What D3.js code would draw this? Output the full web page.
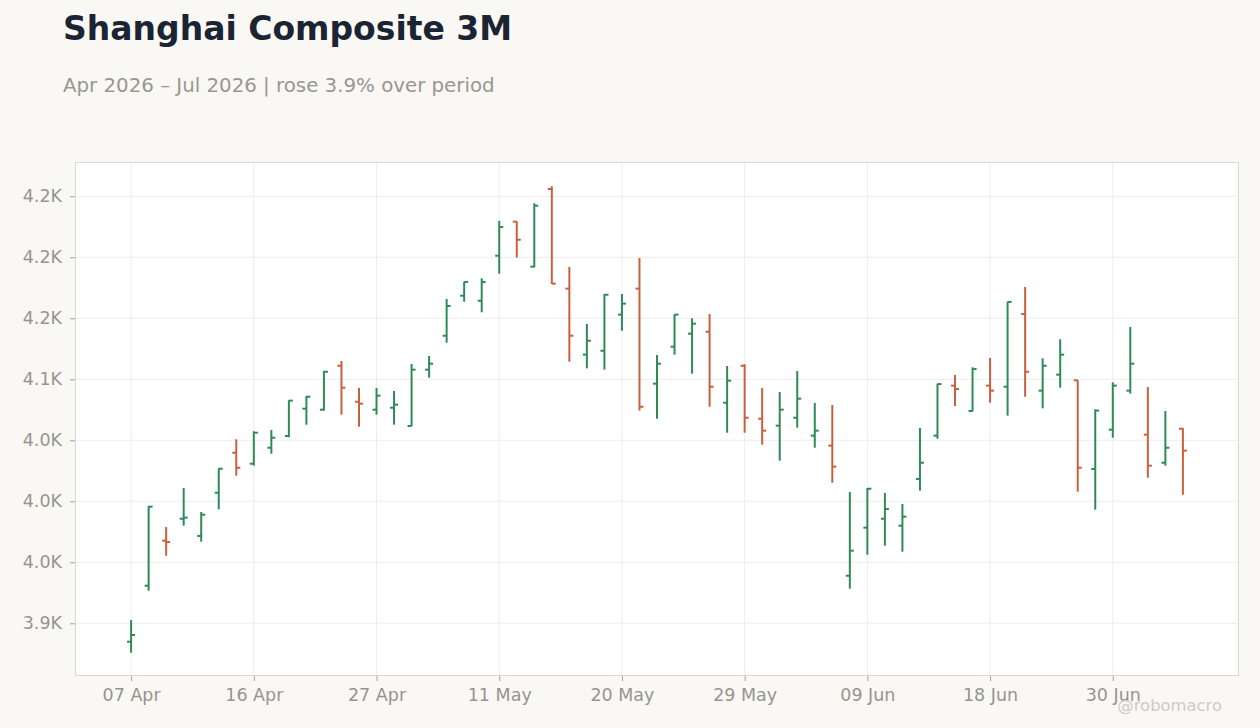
<!DOCTYPE html>
<html>
<head>
<meta charset="utf-8">
<script src="https://cdn.jsdelivr.net/npm/d3@7"></script>
<style>
  html, body { margin: 0; padding: 0; background: #f9f8f5; }
  svg { display: block; font-family: "DejaVu Sans", sans-serif; }
</style>
</head>
<body>
<svg id="chart" width="1260" height="728"></svg>
<script>
const dates = ["07 Apr","08 Apr","09 Apr","10 Apr","13 Apr","14 Apr","15 Apr","16 Apr","17 Apr","20 Apr",
  "21 Apr","22 Apr","23 Apr","24 Apr","27 Apr","28 Apr","29 Apr","30 Apr","06 May","07 May",
  "08 May","11 May","12 May","13 May","14 May","15 May","18 May","19 May","20 May","21 May",
  "22 May","25 May","26 May","27 May","28 May","29 May","01 Jun","02 Jun","03 Jun","04 Jun",
  "05 Jun","08 Jun","09 Jun","10 Jun","11 Jun","12 Jun","15 Jun","16 Jun","17 Jun","18 Jun",
  "22 Jun","23 Jun","24 Jun","25 Jun","26 Jun","29 Jun","30 Jun","01 Jul","02 Jul","03 Jul","06 Jul"];

const openVals = [3884.9,3930.8,3967.7,3985.7,3971.6,4007.0,4039.8,4030.8,4043.9,4053.5,
  4075.9,4075.1,4111.1,4081.6,4075.1,4076.7,4061.7,4107.9,4135.7,4168.5,
  4164.4,4201.3,4229.2,4192.3,4256.0,4174.3,4120.2,4123.4,4153.0,4174.3,
  4096.4,4126.7,4137.4,4139.0,4080.8,4111.1,4067.7,4062.0,4068.5,4053.8,
  4045.6,3939.0,3978.4,3985.7,3980.0,4018.3,4053.8,4094.8,4074.0,4094.8,
  4093.9,4153.5,4090.7,4103.8,4099.2,4026.5,4058.7,4090.7,4054.6,4031.6,4059.5];
const highVals = [3902.7,3996.1,3978.9,4010.9,3991.2,4027.0,4050.8,4057.4,4058.4,4082.8,
  4086.3,4106.8,4115.0,4092.9,4092.9,4090.4,4112.5,4119.1,4165.8,4180.0,
  4182.8,4229.8,4229.5,4244.3,4258.2,4192.0,4145.3,4169.9,4169.9,4199.4,
  4119.9,4153.3,4150.0,4153.5,4110.9,4112.3,4092.9,4089.6,4106.8,4080.6,
  4078.9,4007.6,4010.9,4006.8,3997.8,4060.1,4096.4,4103.5,4109.8,4117.5,
  4163.6,4175.7,4117.2,4132.8,4099.4,4075.4,4097.5,4142.9,4093.7,4074.0,4060.1];
const lowVals = [3875.9,3926.7,3955.4,3980.0,3966.9,3993.4,4021.0,4029.2,4039.0,4052.5,
  4062.8,4074.3,4071.0,4061.1,4071.0,4062.8,4061.5,4101.3,4130.0,4163.6,
  4154.9,4186.6,4199.7,4191.8,4178.1,4114.4,4109.0,4107.9,4139.8,4074.3,
  4067.7,4120.2,4104.6,4077.5,4056.2,4056.2,4046.4,4033.3,4060.3,4043.9,
  4015.2,3928.4,3956.2,3963.6,3958.7,4008.7,4051.3,4078.1,4073.8,4080.8,
  4070.2,4085.7,4076.2,4093.1,4007.9,3993.1,4052.1,4088.2,4019.3,4029.2,4005.4];
const closeVals = [3890.4,3995.6,3966.6,3986.6,3989.0,4026.7,4027.5,4056.2,4052.1,4082.5,
  4085.7,4106.2,4093.1,4080.0,4086.6,4079.2,4107.9,4112.8,4160.1,4179.8,
  4179.8,4224.8,4214.4,4242.3,4178.4,4135.7,4131.6,4169.3,4162.0,4077.5,
  4112.8,4153.0,4145.6,4093.9,4098.9,4068.5,4057.9,4075.1,4084.1,4057.9,
  4028.4,3959.5,4010.3,3993.7,3987.4,4031.6,4096.1,4092.0,4108.4,4090.7,
  4163.4,4106.2,4111.1,4120.2,4027.5,4074.3,4094.8,4112.8,4029.2,4043.9,4041.5];

const yTickValues = [3900, 3950, 4000, 4050, 4100, 4150, 4200, 4250];
const yTickLabels = ["3.9K","4.0K","4.0K","4.0K","4.1K","4.2K","4.2K","4.2K"];
const xTickDates = ["07 Apr","16 Apr","27 Apr","11 May","20 May","29 May","09 Jun","18 Jun","30 Jun"];

const titleText = "Shanghai Composite 3M";
const subtitleText = "Apr 2026 \u2013 Jul 2026 | rose 3.9% over period";
const watermark = "@robomacro";

(function () {
const data = dates.map((d, i) => ({date: d, o: openVals[i], h: highVals[i], l: lowVals[i], c: closeVals[i]}));

const svg = d3.select("#chart");
const pL = 75, pR = 1239, pT = 162, pB = 676;
const UP = "#2e8b57", DOWN = "#c8603f";

const x = d3.scalePoint().domain(dates).range([pL, pR]).padding(3.2);
const y = d3.scaleLinear().domain([3856.8, 4278.1]).range([pB, pT]);

// Titles
svg.append("text").attr("x", 63).attr("y", 40)
  .attr("font-size", 33).attr("font-weight", "bold").attr("fill", "#1b2433")
  .text(titleText);
svg.append("text").attr("x", 63).attr("y", 92)
  .attr("font-size", 19.8).attr("fill", "#9a9690")
  .text(subtitleText);

// Plot background
svg.append("rect").attr("x", pL).attr("y", pT)
  .attr("width", pR - pL).attr("height", pB - pT)
  .attr("fill", "#ffffff");

// Grid
const grid = svg.append("g");
grid.selectAll("line.h").data(yTickValues).join("line")
  .attr("x1", pL).attr("x2", pR)
  .attr("y1", d => y(d)).attr("y2", d => y(d))
  .attr("stroke", "#ededed").attr("stroke-width", 1);
grid.selectAll("line.v").data(xTickDates).join("line")
  .attr("y1", pT).attr("y2", pB)
  .attr("x1", d => x(d)).attr("x2", d => x(d))
  .attr("stroke", "#ededed").attr("stroke-width", 1);

// Border
svg.append("rect").attr("x", pL + 0.5).attr("y", pT + 0.5)
  .attr("width", pR - pL - 1).attr("height", pB - pT - 1)
  .attr("fill", "none").attr("stroke", "#dcd7cf").attr("stroke-width", 1);

// Axes
const yAxis = d3.axisLeft(y).tickValues(yTickValues)
  .tickFormat((d, i) => yTickLabels[i]).tickSize(5).tickPadding(8);
const gy = svg.append("g").attr("transform", `translate(${pL},0)`).call(yAxis);
gy.select(".domain").remove();
gy.selectAll(".tick line").attr("stroke", "#a9a49d");
gy.selectAll(".tick text").attr("fill", "#98948e").attr("font-size", 17.5)
  .attr("font-family", "DejaVu Sans, sans-serif");

const xAxis = d3.axisBottom(x).tickValues(xTickDates).tickSize(5).tickPadding(8);
const gx = svg.append("g").attr("transform", `translate(0,${pB})`).call(xAxis);
gx.select(".domain").remove();
gx.selectAll(".tick line").attr("stroke", "#a9a49d");
gx.selectAll(".tick text").attr("fill", "#98948e").attr("font-size", 17.5)
  .attr("font-family", "DejaVu Sans, sans-serif");

// OHLC bars
const tk = 4;
const bars = svg.append("g").selectAll("g").data(data).join("g")
  .attr("stroke", d => d.c >= d.o ? UP : DOWN)
  .attr("stroke-width", 2);
bars.append("line")
  .attr("x1", d => x(d.date)).attr("x2", d => x(d.date))
  .attr("y1", d => y(d.h)).attr("y2", d => y(d.l));
bars.append("line")
  .attr("x1", d => x(d.date) - tk).attr("x2", d => x(d.date))
  .attr("y1", d => y(d.o)).attr("y2", d => y(d.o));
bars.append("line")
  .attr("x1", d => x(d.date)).attr("x2", d => x(d.date) + tk)
  .attr("y1", d => y(d.c)).attr("y2", d => y(d.c));

// Watermark
svg.append("text").attr("x", 1222).attr("y", 711).attr("text-anchor", "end")
  .attr("font-size", 16.4).attr("fill", "#cfcbc5")
  .text(watermark);
})();
</script>
</body>
</html>
